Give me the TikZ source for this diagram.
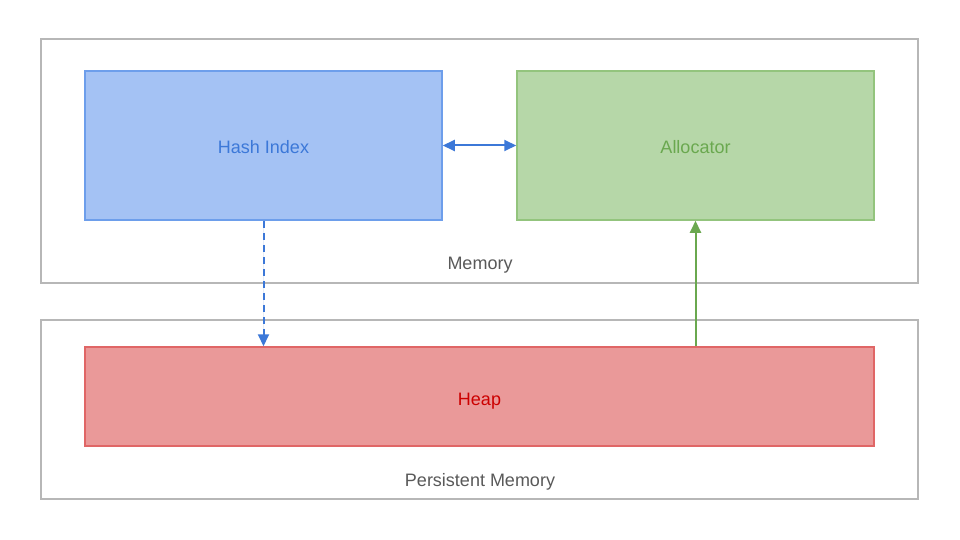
\documentclass[tikz,border=0pt]{standalone}
\usepackage{fontspec}
\setmainfont{Liberation Sans}
\usetikzlibrary{arrows.meta}
\definecolor{bfill}{HTML}{A4C2F4}
\definecolor{bdraw}{HTML}{6D9EEB}
\definecolor{btext}{HTML}{3C78D8}
\definecolor{gfill}{HTML}{B6D7A8}
\definecolor{gdraw}{HTML}{93C47D}
\definecolor{gtext}{HTML}{6AA84F}
\definecolor{rfill}{HTML}{EA9999}
\definecolor{rdraw}{HTML}{E06666}
\definecolor{rtext}{HTML}{CC0000}
\definecolor{gray1}{HTML}{B7B7B7}
\definecolor{gray2}{HTML}{595959}
\begin{document}
\begin{tikzpicture}[x=1pt,y=-1pt,
  container/.style={draw=gray1,line width=1.5pt},
  blk/.style={line width=1.5pt,font=\fontsize{18}{21}\selectfont,text height=17pt,text depth=0pt,inner sep=0pt},
  lbl/.style={text=gray2,font=\fontsize{18}{21}\selectfont},
  conn/.style={line width=2pt},
  arrowend/.style={-{Triangle[length=12pt,width=11pt]}},
  botharrow/.style={{Triangle[length=12pt,width=11pt]}-{Triangle[length=12pt,width=11pt]}}]
\useasboundingbox[fill=white] (0,0) rectangle (960,540);
\draw[container] (41,39) rectangle (918,283);
\draw[container] (41,320) rectangle (918,499);
\node[lbl] (memlbl) at (480,265) {Memory};
\node[lbl] (pmlbl) at (480,482) {Persistent Memory};
\node[blk,draw=bdraw,fill=bfill,text=btext,minimum width=357pt,minimum height=149pt] (hash) at (263.5,145.5) {Hash Index};
\node[blk,draw=gdraw,fill=gfill,text=gtext,minimum width=357pt,minimum height=149pt] (alloc) at (695.5,145.5) {Allocator};
\node[blk,draw=rdraw,fill=rfill,text=rtext,minimum width=789pt,minimum height=99pt] (heap) at (479.5,396.5) {Heap};
\draw[conn,draw=btext,fill=btext,botharrow] (hash.east) -- (alloc.west);
\draw[conn,draw=btext,fill=btext,dash pattern=on 7pt off 5pt,arrowend] (hash.south) -- (heap.north -| hash.south);
\coordinate (gstart) at (heap.north -| alloc.south);
\draw[conn,draw=gtext,fill=gtext,arrowend] (gstart) -- (alloc.south);
\end{tikzpicture}
\end{document}
